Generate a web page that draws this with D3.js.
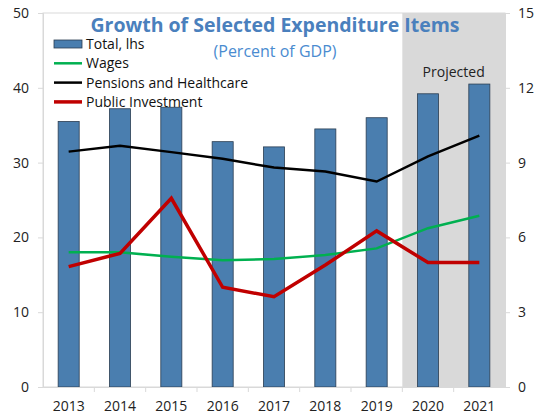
<!DOCTYPE html>
<html>
<head>
<meta charset="utf-8">
<script src="https://cdn.jsdelivr.net/npm/d3@7"></script>
<style>
  body { margin: 0; background: #fff; }
  text { font-family: "Open Sans", "Noto Sans", sans-serif; }
</style>
</head>
<body>
<div id="chart"></div>
<script>
(function(){

  //chart data
  var years = ["2013", "2014", "2015", "2016", "2017", "2018", "2019", "2020", "2021"];
  var totalLhs = [35.5, 37.2, 37.4, 32.8, 32.1, 34.5, 36.0, 39.2, 40.5];
  var wages = [5.4, 5.4, 5.22, 5.08, 5.13, 5.29, 5.56, 6.37, 6.87];
  var pensions = [9.44, 9.68, 9.42, 9.15, 8.8, 8.64, 8.24, 9.25, 10.08];
  var publicInv = [4.83, 5.36, 7.57, 4.0, 3.62, 4.89, 6.26, 4.99, 4.99];
  var projectedYears = ["2020", "2021"];
  var leftTicks = [0, 10, 20, 30, 40, 50];
  var rightTicks = [0, 3, 6, 9, 12, 15];

  var width = 541, height = 420;
  var margin = {top: 13, right: 36, bottom: 33, left: 43};
  var plotW = width - margin.left - margin.right,
      plotH = height - margin.top - margin.bottom;

  var svg = d3.select("#chart").append("svg")
      .attr("width", width)
      .attr("height", height);

  var g = svg.append("g")
      .attr("transform", "translate(" + margin.left + "," + margin.top + ")");

  //scales
  var x = d3.scaleBand().domain(years).range([0, plotW]).paddingInner(0).paddingOuter(0);
  var yL = d3.scaleLinear().domain([0, 50]).range([plotH, 0]);
  var yR = d3.scaleLinear().domain([0, 15]).range([plotH, 0]);

  //projected shading
  g.append("rect")
      .attr("x", x(projectedYears[0]))
      .attr("y", 0)
      .attr("width", x(projectedYears[projectedYears.length - 1]) + x.bandwidth() - x(projectedYears[0]))
      .attr("height", plotH)
      .attr("fill", "#d9d9d9");

  //plot frame
  g.append("rect")
      .attr("width", plotW)
      .attr("height", plotH)
      .attr("fill", "none")
      .attr("stroke", "#d9d9d9")
      .attr("stroke-width", 1);

  //bars
  var barW = x.bandwidth() * 0.41;
  g.selectAll(".bar")
      .data(totalLhs)
      .enter()
      .append("rect")
      .attr("class", "bar")
      .attr("x", function(d, i){ return x(years[i]) + (x.bandwidth() - barW) / 2; })
      .attr("y", function(d){ return yL(d); })
      .attr("width", barW)
      .attr("height", function(d){ return plotH - yL(d); })
      .attr("fill", "#4a7eaf")
      .attr("stroke", "#2b3e52")
      .attr("stroke-width", 0.8);

  //lines
  var line = d3.line()
      .x(function(d, i){ return x(years[i]) + x.bandwidth() / 2; })
      .y(function(d){ return yR(d); });

  var series = [
    {vals: pensions, color: "#000000", w: 2.5},
    {vals: wages, color: "#00b050", w: 2.5},
    {vals: publicInv, color: "#c00000", w: 3.5}
  ];
  series.forEach(function(s){
    g.append("path")
        .datum(s.vals)
        .attr("d", line)
        .attr("fill", "none")
        .attr("stroke", s.color)
        .attr("stroke-width", s.w)
        .attr("stroke-linejoin", "miter");
  });

  //axes
  var axisColor = "#d9d9d9";
  var left = g.append("g")
      .call(d3.axisLeft(yL).tickValues(leftTicks).tickSize(5).tickPadding(9));
  var right = g.append("g")
      .attr("transform", "translate(" + plotW + ",0)")
      .call(d3.axisRight(yR).tickValues(rightTicks).tickSize(5).tickPadding(8));
  var bottom = g.append("g")
      .attr("transform", "translate(0," + plotH + ")")
      .call(d3.axisBottom(x).tickSize(0).tickPadding(14));

  //tick marks between categories on x axis
  g.selectAll(".xsep")
      .data(years.slice(1))
      .enter()
      .append("line")
      .attr("x1", function(d){ return x(d); })
      .attr("x2", function(d){ return x(d); })
      .attr("y1", plotH)
      .attr("y2", plotH + 5)
      .attr("stroke", axisColor);

  [left, right, bottom].forEach(function(a){
    a.select(".domain").attr("stroke", axisColor);
    a.selectAll(".tick line").attr("stroke", axisColor);
    a.selectAll(".tick text")
        .attr("fill", "#222")
        .style("font-size", "14px")
        .style("font-family", "'Open Sans', 'Noto Sans', sans-serif");
  });

  //title
  svg.append("text")
      .attr("x", 275)
      .attr("y", 32)
      .attr("text-anchor", "middle")
      .attr("fill", "#4a80bd")
      .style("font-size", "19.5px")
      .style("font-weight", "bold")
      .text("Growth of Selected Expenditure Items");

  svg.append("text")
      .attr("x", 275)
      .attr("y", 57)
      .attr("text-anchor", "middle")
      .attr("fill", "#4a8bd0")
      .style("font-size", "16px")
      .text("(Percent of GDP)");

  svg.append("text")
      .attr("x", x(projectedYears[0]) + margin.left + x.bandwidth())
      .attr("y", 77)
      .attr("text-anchor", "middle")
      .attr("fill", "#222")
      .style("font-size", "14px")
      .text("Projected");

  //legend
  var legendItems = [
    {label: "Total, lhs", type: "bar", color: "#4a7eaf"},
    {label: "Wages", type: "line", color: "#00b050", w: 2.5},
    {label: "Pensions and Healthcare", type: "line", color: "#000000", w: 2.5},
    {label: "Public Investment", type: "line", color: "#c00000", w: 3.5}
  ];
  var legend = svg.append("g").attr("transform", "translate(54,44)");
  legendItems.forEach(function(d, i){
    var row = legend.append("g").attr("transform", "translate(0," + (i * 19.3) + ")");
    if (d.type === "bar") {
      row.append("rect")
          .attr("x", 0).attr("y", -4)
          .attr("width", 28).attr("height", 8)
          .attr("fill", d.color)
          .attr("stroke", "#2b3e52")
          .attr("stroke-width", 0.8);
    } else {
      row.append("line")
          .attr("x1", 0).attr("x2", 28)
          .attr("y1", 0).attr("y2", 0)
          .attr("stroke", d.color)
          .attr("stroke-width", d.w);
    }
    row.append("text")
        .attr("x", 32)
        .attr("y", 5)
        .attr("fill", "#111")
        .style("font-size", "14px")
        .text(d.label);
  });

})();
</script>
</body>
</html>
